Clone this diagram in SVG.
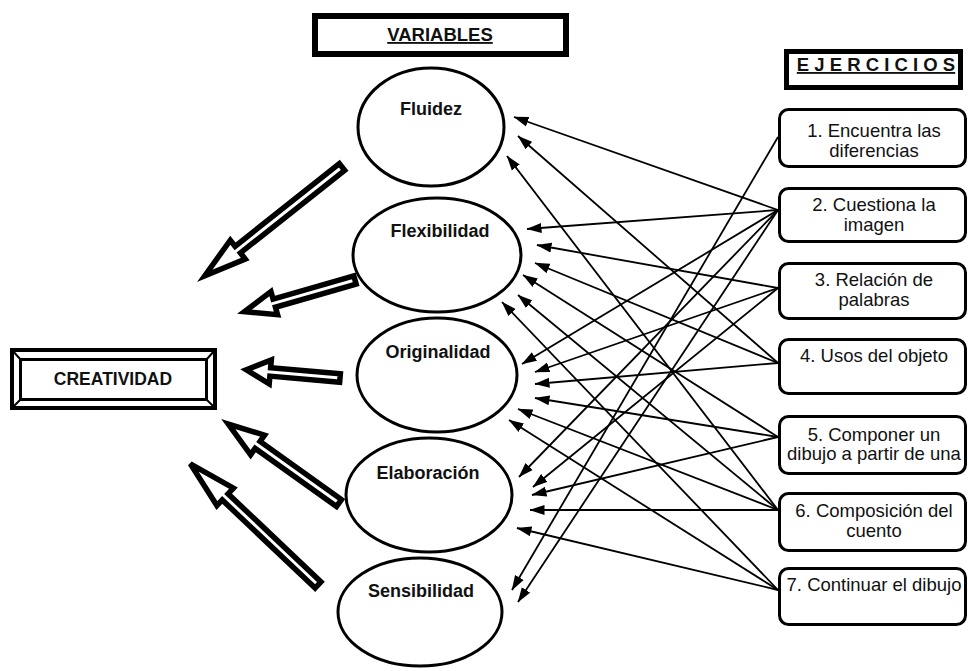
<svg xmlns="http://www.w3.org/2000/svg" width="968" height="671" viewBox="0 0 968 671">
<defs>
<style>
.t{font-family:"Liberation Sans",Arial,sans-serif;fill:#111;}
.ex{font-size:18.5px;text-anchor:middle;}
.vb{font-size:18px;font-weight:bold;text-anchor:middle;}
.ell{fill:#fff;stroke:#000;stroke-width:3;}
.box{fill:#fff;stroke:#000;stroke-width:3;}
.ln{stroke:#000;stroke-width:1.8;fill:none;marker-end:url(#ah);}
.blk{fill:#fff;stroke:#000;stroke-width:5.5;stroke-linejoin:miter;}
</style>
<marker id="ah" markerUnits="userSpaceOnUse" markerWidth="15" markerHeight="11" refX="14.5" refY="5.5" orient="auto"><path d="M0,0.5 L15,5.5 L0,10.5 z" fill="#000"/></marker>
</defs>
<rect width="968" height="671" fill="#fff"/>

<g id="variables-title">
<rect x="315" y="16" width="251" height="38" fill="#fff" stroke="#000" stroke-width="6"/>
<text class="t" x="440" y="41" font-size="18.5" font-weight="bold" text-anchor="middle" text-decoration="underline">VARIABLES</text>
</g>

<g id="ejercicios-title">
<rect x="786.5" y="51.5" width="174" height="36" fill="#fff" stroke="#000" stroke-width="5"/>
<text class="t" x="876" y="71" font-size="18.5" font-weight="bold" text-anchor="middle" text-decoration="underline">E J E R C I C I O S</text>
</g>

<g id="creatividad">
<rect x="12" y="350" width="203" height="58" fill="#fff" stroke="#000" stroke-width="4"/>
<rect x="20.5" y="359.5" width="186" height="40" fill="#fff" stroke="#000" stroke-width="3"/>
<path d="M12,350 L20.5,359.5 M215,350 L206.5,359.5 M12,408 L20.5,399.5 M215,408 L206.5,399.5" stroke="#000" stroke-width="2"/>
<text class="t" x="113" y="385" font-size="17.5" font-weight="bold" text-anchor="middle">CREATIVIDAD</text>
</g>

<g id="fluidez"><ellipse class="ell" cx="431" cy="127" rx="73" ry="59"/><text class="t vb" x="431" y="115">Fluidez</text></g>
<g id="flexibilidad"><ellipse class="ell" cx="437" cy="255" rx="84" ry="57"/><text class="t vb" x="440" y="237">Flexibilidad</text></g>
<g id="originalidad"><ellipse class="ell" cx="437" cy="375" rx="80" ry="57"/><text class="t vb" x="438" y="358">Originalidad</text></g>
<g id="elaboracion"><ellipse class="ell" cx="429" cy="495" rx="83" ry="57"/><text class="t vb" x="428" y="479">Elaboración</text></g>
<g id="sensibilidad"><ellipse class="ell" cx="420" cy="612" rx="82" ry="54"/><text class="t vb" x="421" y="597">Sensibilidad</text></g>

<g id="ej1"><rect class="box" x="779.5" y="109.5" width="186" height="57" rx="9"/><text class="t ex" x="874" y="137">1. Encuentra las</text><text class="t ex" x="874" y="157">diferencias</text></g>
<g id="ej2"><rect class="box" x="779.5" y="188.5" width="186" height="53" rx="9"/><text class="t ex" x="874" y="211">2. Cuestiona la</text><text class="t ex" x="874" y="231">imagen</text></g>
<g id="ej3"><rect class="box" x="779.5" y="263.5" width="186" height="55" rx="9"/><text class="t ex" x="874" y="286">3. Relación de</text><text class="t ex" x="874" y="306">palabras</text></g>
<g id="ej4"><rect class="box" x="779.5" y="339.5" width="186" height="54" rx="9"/><text class="t ex" x="874" y="362">4. Usos del objeto</text></g>
<g id="ej5"><rect class="box" x="779.5" y="416.5" width="186" height="57" rx="9"/><text class="t ex" x="874" y="441">5. Componer un</text><text class="t ex" x="874" y="460">dibujo a partir de una</text></g>
<g id="ej6"><rect class="box" x="779.5" y="493.5" width="186" height="57" rx="9"/><text class="t ex" x="874" y="517">6. Composición del</text><text class="t ex" x="874" y="537">cuento</text></g>
<g id="ej7"><rect class="box" x="779.5" y="568.5" width="186" height="56" rx="9"/><text class="t ex" x="874" y="591">7. Continuar el dibujo</text></g>

<g id="connectors">
<g id="big-arrows">
<polygon class="blk" transform="translate(342,167) rotate(141.6)" points="0,-4.25 133,-4.25 133,-12 175,0 133,12 133,4.25 0,4.25"/>
<polygon class="blk" transform="translate(355,280) rotate(164)" points="0,-4.25 84,-4.25 84,-12 115,0 84,12 84,4.25 0,4.25"/>
<polygon class="blk" transform="translate(340,378) rotate(185)" points="0,-4.25 70,-4.25 70,-12 94,0 70,12 70,4.25 0,4.25"/>
<polygon class="blk" transform="translate(339,503) rotate(215.5)" points="0,-4.25 100,-4.25 100,-12 136,0 100,12 100,4.25 0,4.25"/>
<polygon class="blk" transform="translate(318,585) rotate(223.5)" points="0,-4.25 128,-4.25 128,-12 176,0 128,12 128,4.25 0,4.25"/>
</g>
<g id="links">
<line class="ln" x1="778" y1="210" x2="514" y2="117"/>
<line class="ln" x1="778" y1="363" x2="518" y2="136"/>
<line class="ln" x1="778" y1="510" x2="507" y2="156"/>
<line class="ln" x1="778" y1="210" x2="527" y2="229"/>
<line class="ln" x1="778" y1="288" x2="537" y2="245"/>
<line class="ln" x1="778" y1="363" x2="535" y2="263"/>
<line class="ln" x1="778" y1="437" x2="523" y2="275"/>
<line class="ln" x1="778" y1="510" x2="518" y2="295"/>
<line class="ln" x1="778" y1="590" x2="502" y2="302"/>
<line class="ln" x1="778" y1="210" x2="522" y2="364"/>
<line class="ln" x1="778" y1="288" x2="535" y2="372"/>
<line class="ln" x1="778" y1="363" x2="535" y2="384"/>
<line class="ln" x1="778" y1="437" x2="535" y2="398"/>
<line class="ln" x1="778" y1="510" x2="518" y2="409"/>
<line class="ln" x1="778" y1="590" x2="509" y2="420"/>
<line class="ln" x1="778" y1="210" x2="519" y2="477"/>
<line class="ln" x1="778" y1="288" x2="533" y2="487"/>
<line class="ln" x1="778" y1="437" x2="532" y2="495"/>
<line class="ln" x1="778" y1="510" x2="530" y2="510"/>
<line class="ln" x1="778" y1="590" x2="517" y2="528"/>
<line class="ln" x1="778" y1="137" x2="512" y2="590"/>
<line class="ln" x1="778" y1="210" x2="518" y2="602"/>
</g>
</g>
</svg>
